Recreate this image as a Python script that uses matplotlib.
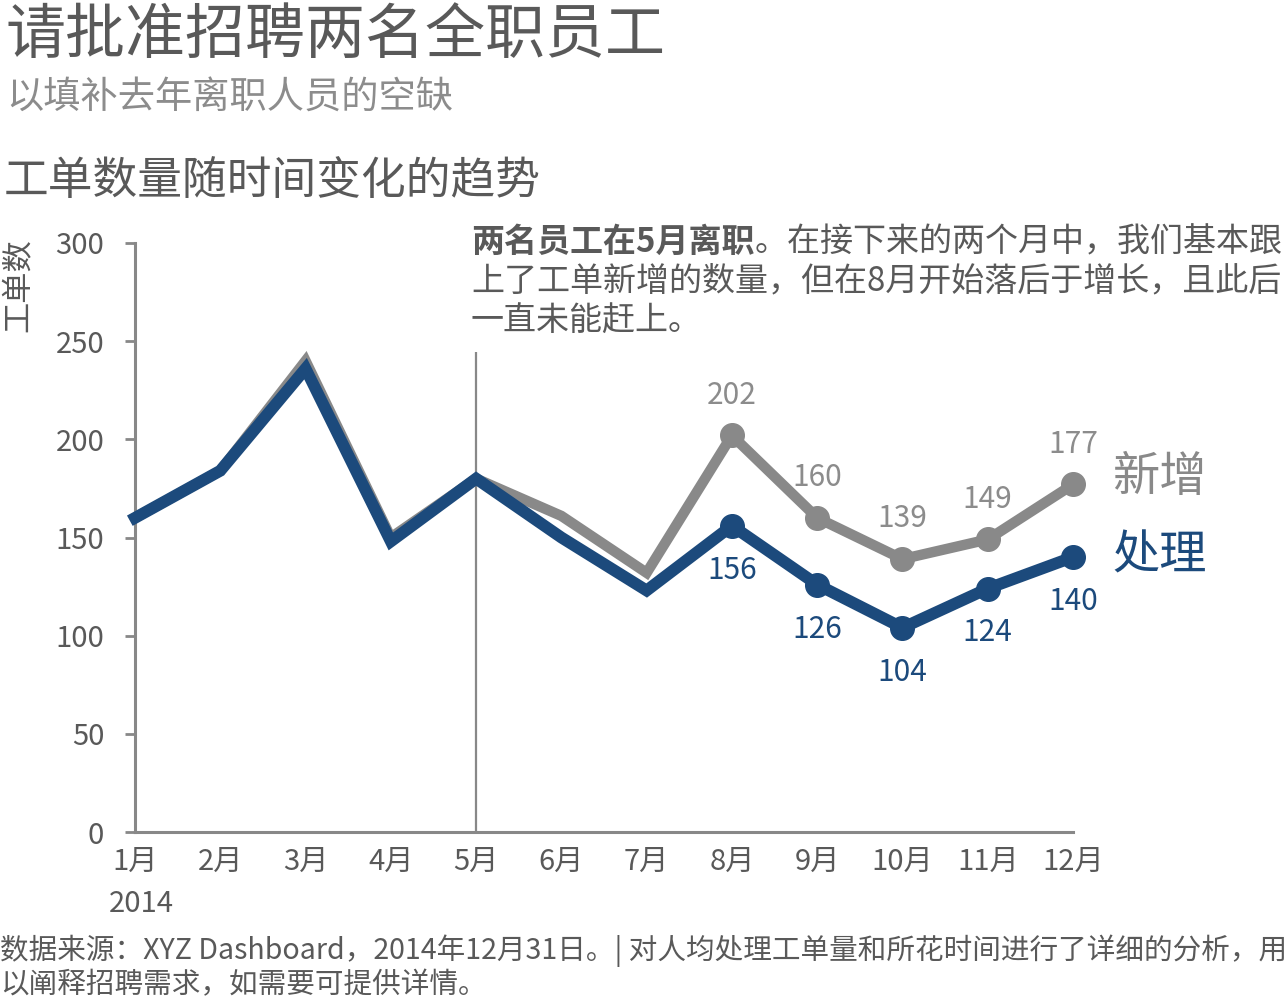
import matplotlib
matplotlib.use("Agg")
import matplotlib.pyplot as plt

plt.rcParams['font.family'] = ['Noto Sans CJK SC', 'DejaVu Sans']

months = ["1月", "2月", "3月", "4月", "5月", "6月", "7月", "8月", "9月", "10月", "11月", "12月"]
new_tickets = [160, 184, 240, 150, 180, 161, 132, 202, 160, 139, 149, 177]
processed = [160, 184, 236, 148, 180, 150, 123, 156, 126, 104, 124, 140]
yticks = [0, 50, 100, 150, 200, 250, 300]
year_label = "2014"
marker_start = 7  # August onward

W, H = 1286, 1001
GRAY_TXT = "#595959"
GRAY_LIGHT = "#8c8c8c"
GRAY_LINE = "#898989"
BLUE = "#1c4a7c"
AXIS = "#888888"

fig = plt.figure(figsize=(W / 100, H / 100), dpi=100)

def px(x, y):
    return x / W, 1 - y / H

ax = fig.add_axes([135 / W, 1 - 832 / H, (1073 - 135) / W, (832 - 243) / H])
x = list(range(len(months)))

ax.plot(x, new_tickets, color=GRAY_LINE, lw=7.5, solid_joinstyle='miter', clip_on=False, zorder=3)
ax.plot(x[marker_start:], new_tickets[marker_start:], 'o', color=GRAY_LINE, ms=17, clip_on=False, zorder=3)
ax.plot(x, processed, color=BLUE, lw=8.5, solid_joinstyle='miter', clip_on=False, zorder=4)
ax.plot(x[marker_start:], processed[marker_start:], 'o', color=BLUE, ms=17, clip_on=False, zorder=4)

for i in range(marker_start, len(months)):
    ax.annotate(str(new_tickets[i]), (x[i], new_tickets[i]), xytext=(0, 29), textcoords='offset points',
                ha='center', va='center', fontsize=21.5, color=GRAY_LIGHT)
    ax.annotate(str(processed[i]), (x[i], processed[i]), xytext=(0, -32), textcoords='offset points',
                ha='center', va='center', fontsize=21.5, color=BLUE)

ax.vlines(4, 0, 244.5, color=AXIS, lw=1.6, zorder=2)

ax.set_xlim(0, 11)
ax.set_ylim(0, 300)
ax.set_yticks(yticks)
ax.set_yticklabels([str(v) for v in yticks], fontsize=21, color=GRAY_TXT)
ax.set_xticks(x)
ax.set_xticklabels(months, fontsize=21, color=GRAY_TXT)
ax.tick_params(axis='y', length=7.2, width=2, color=AXIS, pad=15)
ax.tick_params(axis='x', length=0, pad=11)
for s in ['top', 'right']:
    ax.spines[s].set_visible(False)
for s in ['left', 'bottom']:
    ax.spines[s].set_color(AXIS)
    ax.spines[s].set_linewidth(2.2)
ax.patch.set_alpha(0)

fig.text(*px(109, 904), year_label, fontsize=21, color=GRAY_TXT, ha='left', va='center')

# titles
fig.text(*px(6, 36), "请批准招聘两名全职员工", fontsize=43.2, color=GRAY_TXT, ha='left', va='center')
fig.text(*px(6, 97), "以填补去年离职人员的空缺", fontsize=26.8, color=GRAY_LIGHT, ha='left', va='center')
fig.text(*px(4, 181), "工单数量随时间变化的趋势", fontsize=32.2, color=GRAY_TXT, ha='left', va='center')

# y label
fig.text(*px(18, 285), "工单数", fontsize=22.5, color=GRAY_TXT, rotation=90, ha='center', va='center')

# series labels
fig.text(*px(1112, 478), "新增", fontsize=34, color=GRAY_LINE, ha='left', va='center')
fig.text(*px(1112, 556), "处理", fontsize=34, color=BLUE, ha='left', va='center')

# annotation
renderer = fig.canvas.get_renderer()
t_bold = fig.text(*px(471, 242), "两名员工在5月离职", fontsize=23.8, color=GRAY_TXT,
                  fontweight='bold', ha='left', va='center')
bb = t_bold.get_window_extent(renderer=renderer)
fig.text(bb.x1 / W, 1 - 242 / H, "。在接下来的两个月中，我们基本跟", fontsize=23.8, color=GRAY_TXT,
         ha='left', va='center')
fig.text(*px(471, 281), "上了工单新增的数量，但在8月开始落后于增长，且此后", fontsize=23.8,
         color=GRAY_TXT, ha='left', va='center')
fig.text(*px(471, 321), "一直未能赶上。", fontsize=23.8, color=GRAY_TXT, ha='left', va='center')

# footer
fig.text(*px(0, 951), "数据来源：XYZ Dashboard，2014年12月31日。| 对人均处理工单量和所花时间进行了详细的分析，用",
         fontsize=20.6, color=GRAY_TXT, ha='left', va='center')
fig.text(*px(0, 985), "以阐释招聘需求，如需要可提供详情。", fontsize=20.6, color=GRAY_TXT, ha='left', va='center')

fig.savefig("out.png", dpi=100)
